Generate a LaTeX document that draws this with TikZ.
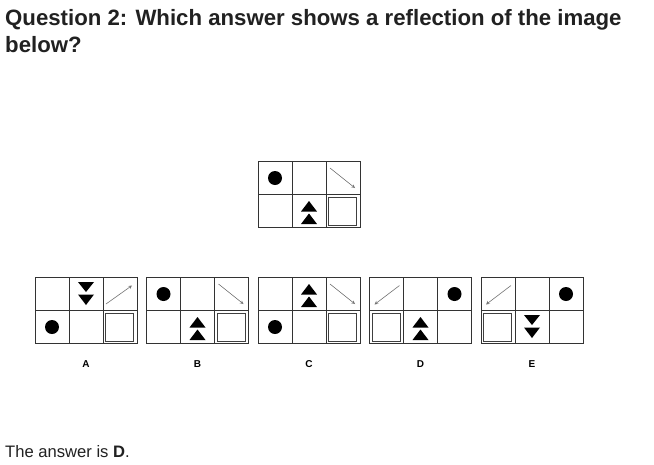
\documentclass[tikz,border=0pt]{standalone}
\usepackage{fontspec}
\setmainfont{Liberation Sans}
\usepackage{tikz}

\begin{document}
\begin{tikzpicture}[x=1pt,y=-1pt,
    gridline/.style={draw=black!80,line width=0.8pt},
    pointer/.style={->,>=stealth,draw=black!55,line width=0.6pt},
    letter/.style={font=\bfseries\fontsize{10}{10}\selectfont},
    pics/blob/.style={code={\fill (0,0) circle (7);}},
    pics/uptri/.style={code={
        \fill (0,-10) -- (8,0.5) -- (-8,0.5) -- cycle;
        \fill (0,2.5) -- (8,13) -- (-8,13) -- cycle;}},
    pics/downtri/.style={code={
        \fill (-8,-12) -- (8,-12) -- (0,-2) -- cycle;
        \fill (-8,0.5) -- (8,0.5) -- (0,11) -- cycle;}},
    pics/sqbox/.style={code={\draw[black!75,line width=0.9pt] (-14.5,-13.5) rectangle (13.5,14);}},
    pics/arrowdr/.style={code={\draw[pointer] (-13,-10) -- (12,10);}},
    pics/arrowur/.style={code={\draw[pointer] (-14,10) -- (12,-8.5);}},
    pics/arrowdl/.style={code={\draw[pointer] (13,-8.5) -- (-12,10.5);}}]
    % page
    \fill[white] (0,0) rectangle (654,464);
    \useasboundingbox (0,0) rectangle (654,464);

    % question text
    \node (q1) [anchor=base west,inner sep=0pt,text=black!87,
        font=\bfseries\fontsize{22.2}{26}\selectfont] at (5,25)
        {Question 2: Which answer shows a reflection of the image};
    \node (q2) [anchor=base west,inner sep=0pt,text=black!87,
        font=\bfseries\fontsize{22.2}{26}\selectfont] at (5,52) {below?};

    % empty grids
    \foreach \gx/\gy in {258/161.5,35/277.5,146.5/277.5,258/277.5,369.5/277.5,481/277.5}
    {
        \draw[gridline] (\gx,\gy) rectangle (\gx+102,\gy+66);
        \draw[gridline] (\gx+34,\gy) -- (\gx+34,\gy+66);
        \draw[gridline] (\gx+68,\gy) -- (\gx+68,\gy+66);
        \draw[gridline] (\gx,\gy+33) -- (\gx+102,\gy+33);
    }

    % the image
    \begin{scope}[shift={(258,161.5)}]
        \pic at (17,16.5) {blob};
        \pic at (85,16.5) {arrowdr};
        \pic at (51,49.5) {uptri};
        \pic at (85,49.5) {sqbox};
    \end{scope}

    % A
    \begin{scope}[shift={(35,277.5)}]
        \pic at (51,16.5) {downtri};
        \pic at (85,16.5) {arrowur};
        \pic at (17,49.5) {blob};
        \pic at (85,49.5) {sqbox};
        \node (lblA) [letter] at (51,87) {A};
    \end{scope}
    % B
    \begin{scope}[shift={(146.5,277.5)}]
        \pic at (17,16.5) {blob};
        \pic at (85,16.5) {arrowdr};
        \pic at (51,49.5) {uptri};
        \pic at (85,49.5) {sqbox};
        \node (lblB) [letter] at (51,87) {B};
    \end{scope}
    % C
    \begin{scope}[shift={(258,277.5)}]
        \pic at (51,16.5) {uptri};
        \pic at (85,16.5) {arrowdr};
        \pic at (17,49.5) {blob};
        \pic at (85,49.5) {sqbox};
        \node (lblC) [letter] at (51,87) {C};
    \end{scope}
    % D
    \begin{scope}[shift={(369.5,277.5)}]
        \pic at (17,16.5) {arrowdl};
        \pic at (85,16.5) {blob};
        \pic at (17,49.5) {sqbox};
        \pic at (51,49.5) {uptri};
        \node (lblD) [letter] at (51,87) {D};
    \end{scope}
    % E
    \begin{scope}[shift={(481,277.5)}]
        \pic at (17,16.5) {arrowdl};
        \pic at (85,16.5) {blob};
        \pic at (17,49.5) {sqbox};
        \pic at (51,49.5) {downtri};
        \node (lblE) [letter] at (51,87) {E};
    \end{scope}

    % answer
    \node (answer) [anchor=base west,inner sep=0pt,text=black!87,
        font=\fontsize{16.6}{19}\selectfont] at (5,457) {The answer is \textbf{D}.};
\end{tikzpicture}
\end{document}
